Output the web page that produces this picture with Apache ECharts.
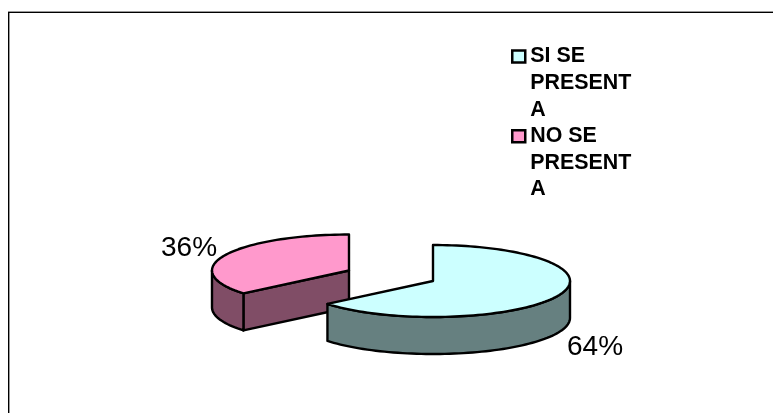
<!DOCTYPE html>
<html>
<head>
<meta charset="utf-8">
<style>html,body{margin:0;padding:0;background:#fff}#c{width:773px;height:413px}</style>
<script src="https://cdn.jsdelivr.net/npm/echarts@6/dist/echarts.min.js"></script>
</head>
<body>
<div id="c"></div>
<script>
const categories = ['SI SE\nPRESENT\nA', 'NO SE\nPRESENT\nA'];
const shares = [64, 36];
const topColors = ['#CCFFFF', '#FF99CC'];
const sideColors = ['#668080', '#804D66'];
const centers = [[433, 281], [349, 270.5]];
const labelPos = [[567, 347], [161, 248]];
const RX = 137, RY = 36, DEPTH = 37, LH = 26.6;
const total = shares.reduce((a, b) => a + b, 0);
const FONT = '"Liberation Sans", Arial, sans-serif';

function pt(c, deg, dy) {
  const t = deg * Math.PI / 180;
  return [c[0] + RX * Math.sin(t), c[1] - RY * Math.cos(t) + (dy || 0)];
}
function arc(c, a, b, dy) {
  const out = [], n = Math.max(2, Math.ceil(Math.abs(b - a) / 2));
  for (let i = 0; i <= n; i++) out.push(pt(c, a + (b - a) * i / n, dy));
  return out;
}
function makeRender(idx, startShare) {
  return function (params, api) {
    const value = api.value(0);
    const a = startShare / total * 360, b = a + value / total * 360;
    const c = centers[idx];
    const line = { stroke: '#000', lineWidth: 2.4, lineJoin: 'round' };
    const children = [];
    const poly = (points, fill) => children.push({ type: 'polygon', shape: { points }, style: Object.assign({ fill }, line) });
    const face = (deg) => poly([c, pt(c, deg), pt(c, deg, DEPTH), [c[0], c[1] + DEPTH]], sideColors[idx]);
    if (Math.sin(a * Math.PI / 180) < -1e-6) face(a);
    if (Math.sin(b * Math.PI / 180) > 1e-6) face(b);
    const s = Math.max(a, 90), e = Math.min(b, 270);
    if (e > s) poly(arc(c, s, e).concat(arc(c, e, s, DEPTH)), sideColors[idx]);
    poly([c].concat(arc(c, a, b)), topColors[idx]);
    children.push({
      type: 'text', x: labelPos[idx][0], y: labelPos[idx][1],
      style: { text: value + '%', fill: '#000', font: '28px ' + FONT, textAlign: 'left', textVerticalAlign: 'middle' }
    });
    return { type: 'group', children };
  };
}
const chart = echarts.init(document.getElementById('c'), null, { renderer: 'canvas' });
const seriesList = categories.map((name, i) => ({
  type: 'custom', name, coordinateSystem: 'none', z: 2 - i,
  itemStyle: { color: topColors[i] },
  data: [[shares[i]]],
  animation: false, silent: true,
  renderItem: makeRender(i, shares.slice(0, i).reduce((x, y) => x + y, 0))
}));
chart.setOption({
  backgroundColor: '#fff',
  animation: false,
  legend: {
    orient: 'vertical', left: 511, top: -10, selectedMode: false, padding: 0,
    itemWidth: 13, itemHeight: 12, itemGap: -2 * LH,
    formatter: (name) => '\n\n' + name,
    textStyle: { fontFamily: FONT, fontSize: 21.4, fontWeight: 'bold', color: '#000', lineHeight: LH },
    data: categories.map((name, i) => ({ name, icon: 'rect', itemStyle: { color: topColors[i], borderColor: '#000', borderWidth: 2.5 } }))
  },
  graphic: [
    { type: 'rect', shape: { x: 8, y: 11, width: 765, height: 1 }, style: { fill: '#999' }, silent: true },
    { type: 'rect', shape: { x: 8, y: 12, width: 765, height: 1 }, style: { fill: '#000' }, silent: true },
    { type: 'rect', shape: { x: 8, y: 12, width: 1, height: 401 }, style: { fill: '#000' }, silent: true },
    { type: 'rect', shape: { x: 9, y: 13, width: 1, height: 400 }, style: { fill: '#999' }, silent: true }
  ],
  series: seriesList
});
</script>
</body>
</html>
